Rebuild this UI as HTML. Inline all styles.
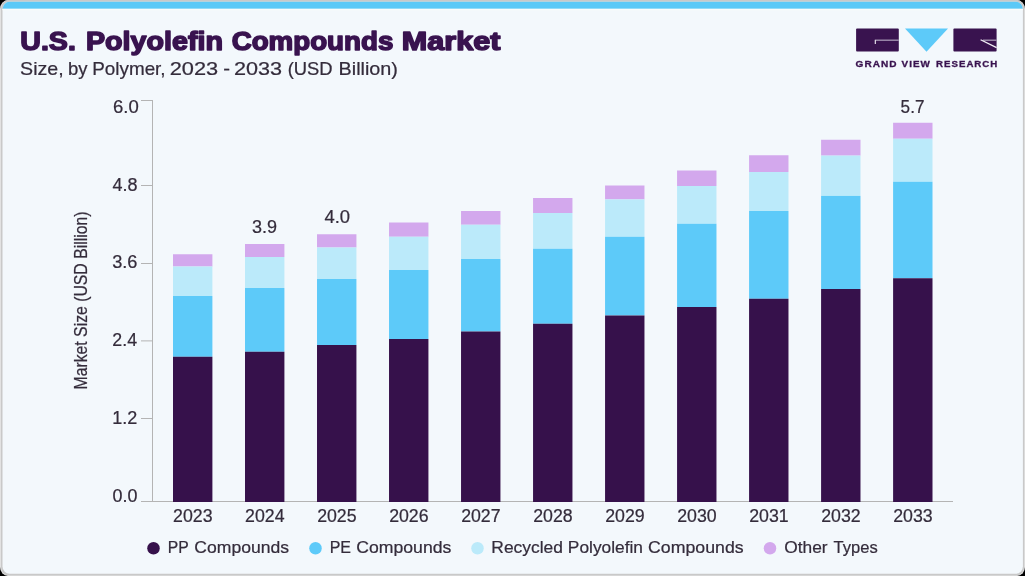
<!DOCTYPE html>
<html><head><meta charset="utf-8"><title>U.S. Polyolefin Compounds Market</title>
<style>
html,body{margin:0;padding:0;background:#000;}
body{width:1025px;height:576px;overflow:hidden;font-family:"Liberation Sans",sans-serif;}
svg{display:block;will-change:transform;}
svg text{font-family:"Liberation Sans",sans-serif;}
</style></head><body>
<svg width="1025" height="576" viewBox="0 0 1025 576">
<defs><clipPath id="inner"><rect x="2.5" y="1.8" width="1020.4" height="572" rx="7" ry="7.5"/></clipPath></defs>
<!-- frame -->
<rect x="0" y="0" width="1025" height="576" rx="8" ry="9" fill="#e2e2e2"/>
<rect x="1" y="0" width="1023.2" height="575.6" rx="7.5" ry="8.5" fill="#c9c9c9"/>
<rect x="2.5" y="1.8" width="1020.4" height="572" rx="7" ry="7.5" fill="#f3f8fc"/>
<g clip-path="url(#inner)">
<rect x="0" y="0" width="1025" height="8.8" fill="#5bc9f7"/>
<rect x="0" y="8.8" width="1025" height="1.4" fill="#fafcfb"/>
</g>
<!-- title -->
<g font-size="25.6" font-weight="bold" fill="#39134f" stroke="#39134f" stroke-width="1.5" stroke-linejoin="round">
<text x="20.33" y="50.4" textLength="55.51" lengthAdjust="spacingAndGlyphs">U.S.</text>
<text x="86.0" y="50.4" textLength="136.93" lengthAdjust="spacingAndGlyphs">Polyolefin</text>
<text x="231.65" y="50.4" textLength="161.67" lengthAdjust="spacingAndGlyphs">Compounds</text>
<text x="401.82" y="50.4" textLength="98.56" lengthAdjust="spacingAndGlyphs">Market</text>
</g>
<g font-size="18.5" fill="#342c3b" stroke="#342c3b" stroke-width="0.22">
<text x="20.11" y="74.9" textLength="43.58" lengthAdjust="spacingAndGlyphs">Size,</text>
<text x="67.98" y="74.9" textLength="19.53" lengthAdjust="spacingAndGlyphs">by</text>
<text x="92.22" y="74.9" textLength="73.38" lengthAdjust="spacingAndGlyphs">Polymer,</text>
<text x="169.75" y="74.9" textLength="48.47" lengthAdjust="spacingAndGlyphs">2023</text>
<text x="223.24" y="74.9" textLength="6.78" lengthAdjust="spacingAndGlyphs">-</text>
<text x="234.0" y="74.9" textLength="48.09" lengthAdjust="spacingAndGlyphs">2033</text>
<text x="287.65" y="74.9" textLength="44.98" lengthAdjust="spacingAndGlyphs">(USD</text>
<text x="338.55" y="74.9" textLength="59.36" lengthAdjust="spacingAndGlyphs">Billion)</text>
</g>
<!-- logo -->
<g>
<rect x="856.1" y="28.6" width="42.7" height="22.8" rx="0.9" fill="#39134f"/>
<path d="M898.8 40.2 H875.6" fill="none" stroke="#a99ab6" stroke-width="1.3"/>
<path d="M875.3 39.7 V43.9" fill="none" stroke="#f4f0f7" stroke-width="1.1"/>
<path d="M905 28.6 H948 L926.5 51.8 Z" fill="#5dcaf9"/>
<rect x="953.4" y="28.6" width="43.2" height="22.8" rx="0.9" fill="#39134f"/>
<path d="M996.6 40.2 H983" fill="none" stroke="#a99ab6" stroke-width="1.3"/>
<path d="M980.6 39.7 L996.6 47.6" fill="none" stroke="#f4f0f7" stroke-width="1.2"/>
<g font-size="8.8" font-weight="bold" fill="#39134f" stroke="#39134f" stroke-width="0.3"><text x="855.64" y="66.9" textLength="41.92" lengthAdjust="spacingAndGlyphs" letter-spacing="0.9">GRAND</text><text x="901.6" y="66.9" textLength="29.27" lengthAdjust="spacingAndGlyphs" letter-spacing="0.9">VIEW</text><text x="936.09" y="66.9" textLength="62.23" lengthAdjust="spacingAndGlyphs" letter-spacing="0.9">RESEARCH</text></g>
</g>
<!-- axes -->
<line x1="152.5" x2="152.5" y1="100" y2="502" stroke="#b4b4b4" stroke-width="1"/>
<line x1="141" x2="953" y1="501.5" y2="501.5" stroke="#b4b4b4" stroke-width="1"/>
<g font-size="17.5" fill="#342c3b" stroke="#342c3b" stroke-width="0.22">
<line x1="141" x2="152.5" y1="100.5" y2="100.5" stroke="#b4b4b4" stroke-width="1"/>
<text x="113.0" y="113.0" textLength="25.75" lengthAdjust="spacingAndGlyphs">6.0</text>
<line x1="141" x2="152.5" y1="185.5" y2="185.5" stroke="#b4b4b4" stroke-width="1"/>
<text x="112.46" y="190.9" textLength="25.02" lengthAdjust="spacingAndGlyphs">4.8</text>
<line x1="141" x2="152.5" y1="263.5" y2="263.5" stroke="#b4b4b4" stroke-width="1"/>
<text x="112.17" y="268.0" textLength="25.28" lengthAdjust="spacingAndGlyphs">3.6</text>
<line x1="141" x2="152.5" y1="340.9" y2="340.9" stroke="#b4b4b4" stroke-width="1"/>
<text x="112.35" y="346.0" textLength="24.69" lengthAdjust="spacingAndGlyphs">2.4</text>
<line x1="141" x2="152.5" y1="418.5" y2="418.5" stroke="#b4b4b4" stroke-width="1"/>
<text x="112.19" y="423.9" textLength="25.01" lengthAdjust="spacingAndGlyphs">1.2</text>
<text x="112.62" y="501.6" textLength="24.89" lengthAdjust="spacingAndGlyphs">0.0</text>
<text x="173.13" y="521.9" textLength="39.44" lengthAdjust="spacingAndGlyphs">2023</text>
<text x="245.14" y="521.9" textLength="39.44" lengthAdjust="spacingAndGlyphs">2024</text>
<text x="317.15" y="521.9" textLength="39.44" lengthAdjust="spacingAndGlyphs">2025</text>
<text x="389.16" y="521.9" textLength="39.44" lengthAdjust="spacingAndGlyphs">2026</text>
<text x="461.17" y="521.9" textLength="39.44" lengthAdjust="spacingAndGlyphs">2027</text>
<text x="533.18" y="521.9" textLength="39.44" lengthAdjust="spacingAndGlyphs">2028</text>
<text x="605.19" y="521.9" textLength="39.44" lengthAdjust="spacingAndGlyphs">2029</text>
<text x="677.20" y="521.9" textLength="39.44" lengthAdjust="spacingAndGlyphs">2030</text>
<text x="749.21" y="521.9" textLength="39.44" lengthAdjust="spacingAndGlyphs">2031</text>
<text x="821.22" y="521.9" textLength="39.44" lengthAdjust="spacingAndGlyphs">2032</text>
<text x="893.23" y="521.9" textLength="39.44" lengthAdjust="spacingAndGlyphs">2033</text>
<text x="252.07" y="233.0" textLength="25.02" lengthAdjust="spacingAndGlyphs">3.9</text>
<text x="324.43" y="223.2" textLength="25.62" lengthAdjust="spacingAndGlyphs">4.0</text>
<text x="900.61" y="113.25" textLength="23.83" lengthAdjust="spacingAndGlyphs">5.7</text>
</g>
<g transform="translate(86.9,488.3) rotate(-90)" font-size="17.5" fill="#342c3b" stroke="#342c3b" stroke-width="0.22"><text x="98.81" y="0" textLength="177.99" lengthAdjust="spacingAndGlyphs">Market Size (USD Billion)</text></g>
<!-- bars -->
<rect x="173.00" y="254.25" width="39.4" height="12.25" fill="#d3a8ed"/>
<rect x="173.00" y="266.5" width="39.4" height="29.50" fill="#bbeafa"/>
<rect x="173.00" y="296.0" width="39.4" height="60.75" fill="#5dcaf9"/>
<rect x="173.00" y="356.75" width="39.4" height="145.25" fill="#36114b"/>
<rect x="245.01" y="244.0" width="39.4" height="13.00" fill="#d3a8ed"/>
<rect x="245.01" y="257.0" width="39.4" height="31.00" fill="#bbeafa"/>
<rect x="245.01" y="288.0" width="39.4" height="63.75" fill="#5dcaf9"/>
<rect x="245.01" y="351.75" width="39.4" height="150.25" fill="#36114b"/>
<rect x="317.02" y="234.25" width="39.4" height="13.25" fill="#d3a8ed"/>
<rect x="317.02" y="247.5" width="39.4" height="31.50" fill="#bbeafa"/>
<rect x="317.02" y="279.0" width="39.4" height="66.00" fill="#5dcaf9"/>
<rect x="317.02" y="345.0" width="39.4" height="157.00" fill="#36114b"/>
<rect x="389.03" y="222.5" width="39.4" height="14.25" fill="#d3a8ed"/>
<rect x="389.03" y="236.75" width="39.4" height="33.25" fill="#bbeafa"/>
<rect x="389.03" y="270.0" width="39.4" height="69.00" fill="#5dcaf9"/>
<rect x="389.03" y="339.0" width="39.4" height="163.00" fill="#36114b"/>
<rect x="461.04" y="211.0" width="39.4" height="13.75" fill="#d3a8ed"/>
<rect x="461.04" y="224.75" width="39.4" height="34.25" fill="#bbeafa"/>
<rect x="461.04" y="259.0" width="39.4" height="72.50" fill="#5dcaf9"/>
<rect x="461.04" y="331.5" width="39.4" height="170.50" fill="#36114b"/>
<rect x="533.05" y="198.0" width="39.4" height="15.00" fill="#d3a8ed"/>
<rect x="533.05" y="213.0" width="39.4" height="35.75" fill="#bbeafa"/>
<rect x="533.05" y="248.75" width="39.4" height="75.00" fill="#5dcaf9"/>
<rect x="533.05" y="323.75" width="39.4" height="178.25" fill="#36114b"/>
<rect x="605.06" y="185.5" width="39.4" height="13.90" fill="#d3a8ed"/>
<rect x="605.06" y="199.4" width="39.4" height="37.35" fill="#bbeafa"/>
<rect x="605.06" y="236.75" width="39.4" height="78.75" fill="#5dcaf9"/>
<rect x="605.06" y="315.5" width="39.4" height="186.50" fill="#36114b"/>
<rect x="677.07" y="170.5" width="39.4" height="15.50" fill="#d3a8ed"/>
<rect x="677.07" y="186.0" width="39.4" height="37.75" fill="#bbeafa"/>
<rect x="677.07" y="223.75" width="39.4" height="83.25" fill="#5dcaf9"/>
<rect x="677.07" y="307.0" width="39.4" height="195.00" fill="#36114b"/>
<rect x="749.08" y="155.25" width="39.4" height="16.75" fill="#d3a8ed"/>
<rect x="749.08" y="172.0" width="39.4" height="39.00" fill="#bbeafa"/>
<rect x="749.08" y="211.0" width="39.4" height="87.75" fill="#5dcaf9"/>
<rect x="749.08" y="298.75" width="39.4" height="203.25" fill="#36114b"/>
<rect x="821.09" y="139.75" width="39.4" height="15.85" fill="#d3a8ed"/>
<rect x="821.09" y="155.6" width="39.4" height="40.30" fill="#bbeafa"/>
<rect x="821.09" y="195.9" width="39.4" height="93.10" fill="#5dcaf9"/>
<rect x="821.09" y="289.0" width="39.4" height="213.00" fill="#36114b"/>
<rect x="893.10" y="122.75" width="39.4" height="16.00" fill="#d3a8ed"/>
<rect x="893.10" y="138.75" width="39.4" height="43.00" fill="#bbeafa"/>
<rect x="893.10" y="181.75" width="39.4" height="96.50" fill="#5dcaf9"/>
<rect x="893.10" y="278.25" width="39.4" height="223.75" fill="#36114b"/>
<!-- legend -->
<g font-size="17" fill="#342c3b" stroke="#342c3b" stroke-width="0.22">
<circle stroke="none" cx="153.5" cy="548.25" r="6.25" fill="#36114b"/>
<text x="167.81" y="552.9" textLength="21.01" lengthAdjust="spacingAndGlyphs">PP</text><text x="194.35" y="552.9" textLength="94.71" lengthAdjust="spacingAndGlyphs">Compounds</text>
<circle stroke="none" cx="315.5" cy="548.25" r="6.25" fill="#5dcaf9"/>
<text x="329.66" y="552.9" textLength="21.36" lengthAdjust="spacingAndGlyphs">PE</text><text x="356.28" y="552.9" textLength="95.07" lengthAdjust="spacingAndGlyphs">Compounds</text>
<circle stroke="none" cx="477.5" cy="548.25" r="6.25" fill="#bbeafa"/>
<text x="491.34" y="552.9" textLength="71.56" lengthAdjust="spacingAndGlyphs">Recycled</text><text x="567.83" y="552.9" textLength="75.19" lengthAdjust="spacingAndGlyphs">Polyolefin</text><text x="648.08" y="552.9" textLength="95.52" lengthAdjust="spacingAndGlyphs">Compounds</text>
<circle stroke="none" cx="770" cy="548.25" r="6.25" fill="#d3a8ed"/>
<text x="784.27" y="552.9" textLength="43.38" lengthAdjust="spacingAndGlyphs">Other</text><text x="833.56" y="552.9" textLength="44.13" lengthAdjust="spacingAndGlyphs">Types</text>
</g>
</svg>
</body></html>
